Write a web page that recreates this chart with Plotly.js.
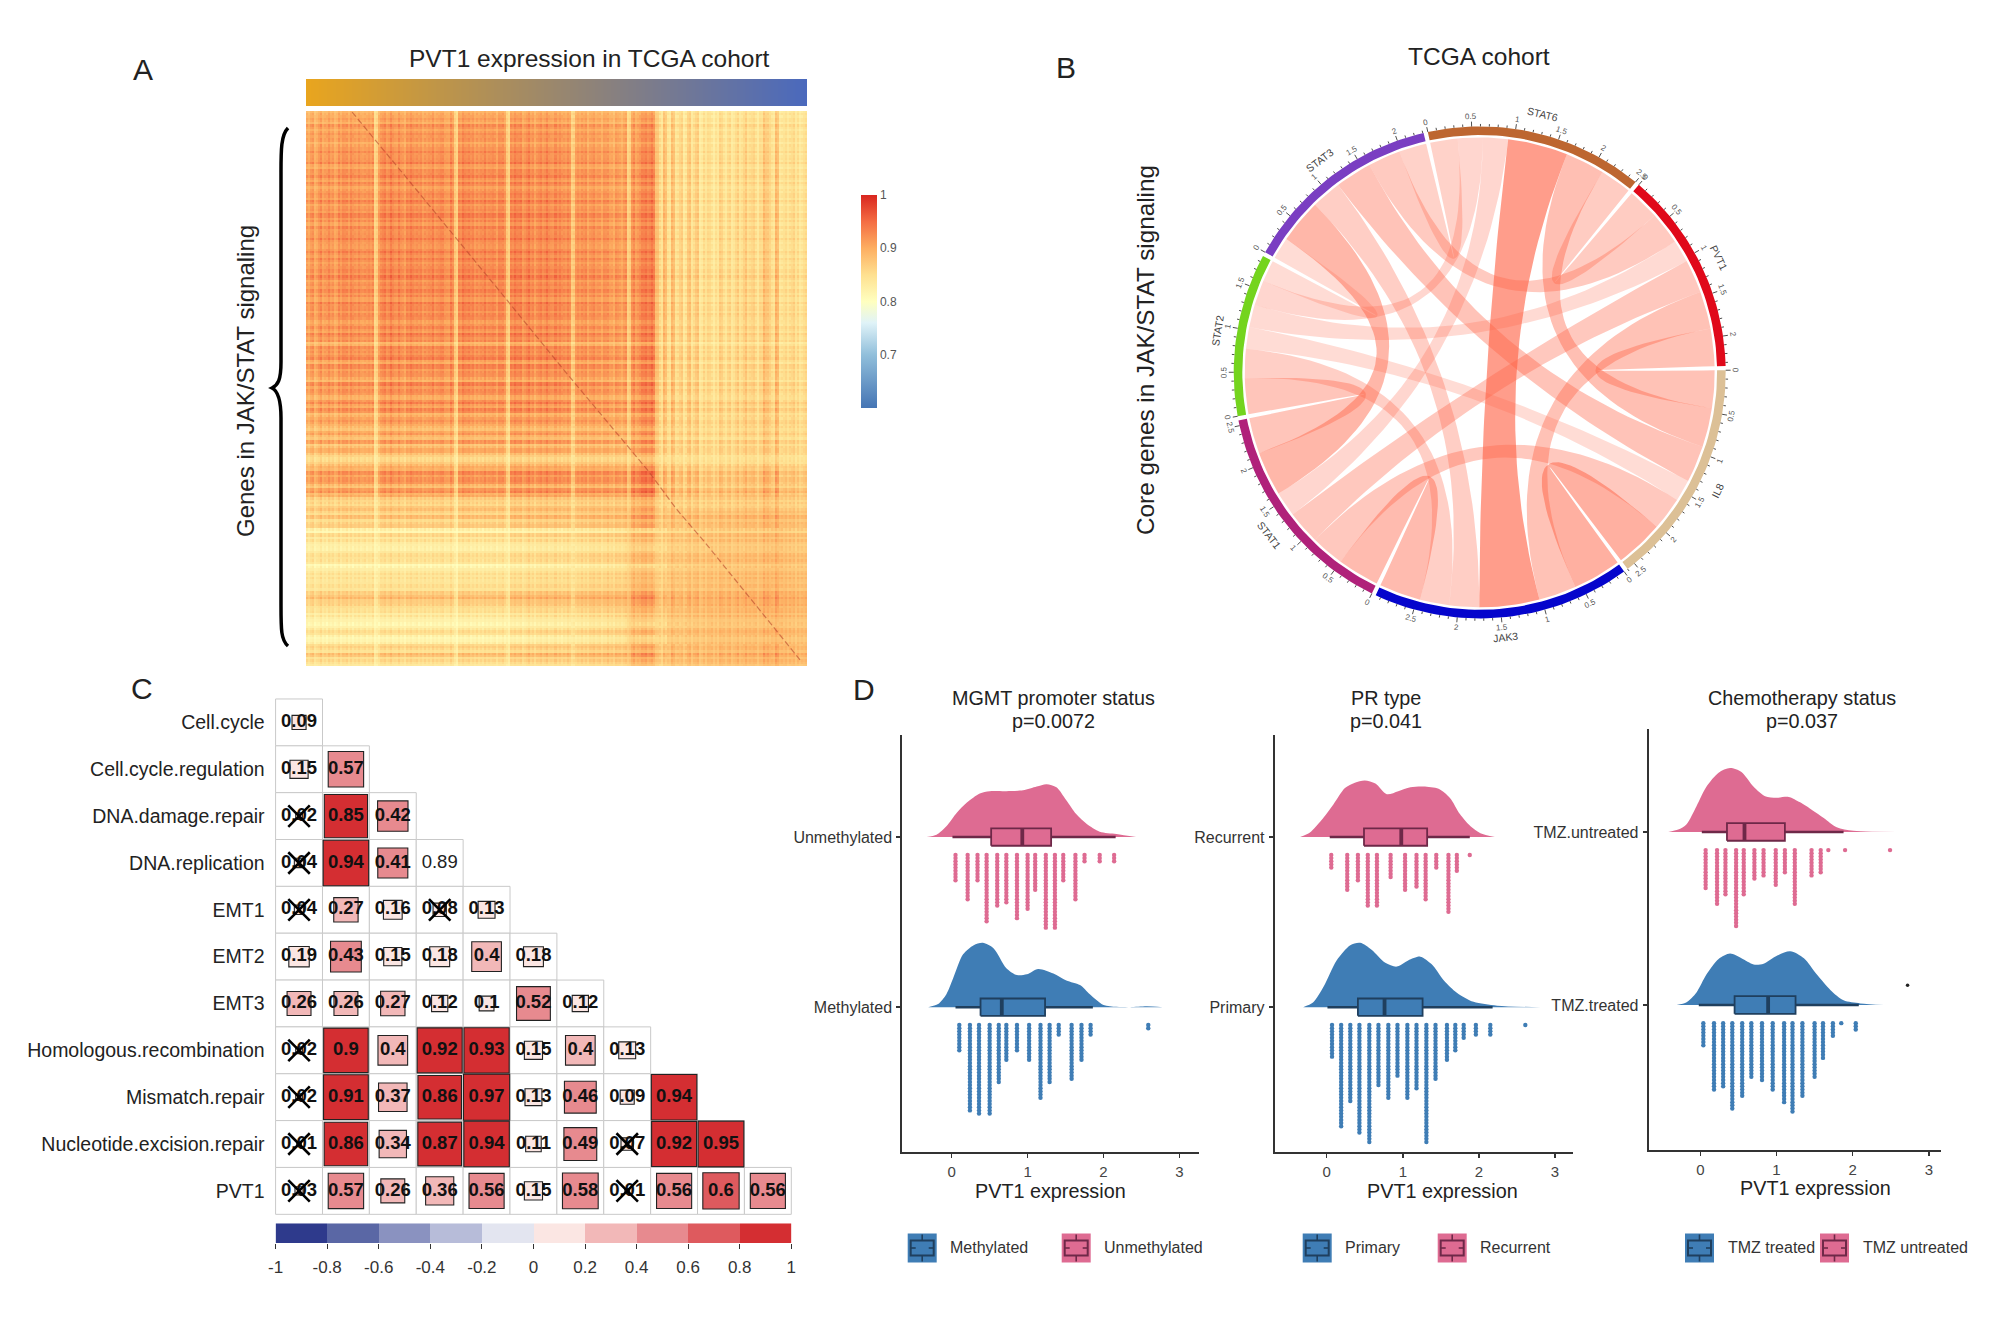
<!DOCTYPE html>
<html><head><meta charset="utf-8">
<script src="https://cdn.plot.ly/plotly-3.0.1.min.js"></script>
<style>html,body{margin:0;padding:0;background:#fff}
.heatmaplayer image{filter:blur(.6px)}</style></head>
<body><div id="chart" style="width:2008px;height:1330px"></div>
<script>
const W = 2008, H = 1330;
// ---- Panel A: gene loadings
const heatColA = [.8,.86,.78,.9,.84,.92,.86,.8,.9,.95,.88,.96,.86,.9,.84,.92,.88,.5,.9,.98,
 .92,1,.9,.95,.88,.94,.98,.9,.96,.86,.92,.98,.88,.96,.92,.86,.95,.55,.92,1,
 .94,.98,.88,.92,.98,.9,.96,.88,.98,.92,.55,.95,1,.96,.9,.98,.94,.88,.96,.92,
 .98,.9,.94,.96,.88,.92,.5,.9,.86,.92,.84,.9,.86,.82,.9,.84,.8,.86,.78,.84,
 .5,.88,.82,.95,.98,.96,1,.6,.35,.65,.3,.62,.3,.5,.25,.55,.35,.5,.25,.35,
 .4,.25,.33,.45,.28,.38,.3,.42,.33,.5,.35,.45,.3,.4,.56,.5,.3,.62,.25,.38,.3,.42,.35,.25,.38];
const heatColB = [.1,.1,.1,.1,.1,.1,.1,.1,.1,.1,.15,.2,.2,.25,.3,.35,.6,.55,.7,.75,.8,.8,.8,.85,.8];
const heatRowA = [.7,.82,.74,.86,.8,.9,.84,.76,.88,.92,.86,.94,.82,.9,.96,.84,.92,.8,.94,.88,
 .96,.86,.92,.98,.9,.84,.94,.88,.96,.92,.84,.98,.9,.94,.86,.96,.92,.98,.88,.94,
 .96,.9,.84,.98,.92,.88,.96,.78,.92,.84,.96,.88,.7,.92,.86,.98,.78,.94,.84,.9,
 .72,.96,.86,.92,.7,.94,.78,.9,.66,.86,.76,.58,.8,.64,.82,.56,.76,.52,.38,.55,
 .72,.9,.82,.86,.58,.84,.7,.45,.38,.55,.42,.55,.38,.5,.1,.36,.26,.2,.12,.28,
 .32,.25,.04,.22,.28,.25,.3,.32,.42,.56,.46,.38,.28,.2,.16,.03,.18,.32,.06,.1,.42,.32,.52,.36,.28];
const heatRowB = [.05,.05,.05,.05,.05,.05,.05,.08,.08,.1,.1,.12,.15,.2,.25,.3,.4,.5,.7,.75,.8,.8,.85,.85,.8];
const heatWeaveCol = [.6,-.4,.2,.8,-.7,.1,-.2,.9,-.5,.3,-.9,.5,-.1];
const heatWeaveRow = [-.3,.7,-.8,.2,.5,-.6,.9,-.1,-.7,.4,.1,-.9,.6,.3,-.5,.8,-.2];
const diagColFrac = [.09,.136,.202,.394,.513,.679,.738,.795,.984];
const diagRowFrac = [0,.05,.122,.333,.465,.644,.716,.776,.987];
const barEnds = [0, 1];
const heatTicks = [0.7, 0.8, 0.9, 1];
// ---- Panel B: correlations among the core genes
const chordGenes = ['IL8','JAK3','STAT1','STAT2','STAT3','STAT6','PVT1'];
const chordColors = ['#DCC096','#0505CC','#B0217A','#74D41E','#7A3EC2','#BD6630','#E0091A'];
const chordMatrix = [
 [0,.58,.4,.26,.44,.47,.45],
 [.58,0,.5,.35,.36,.72,.45],
 [.4,.5,0,.43,.53,.3,.4],
 [.26,.35,.43,0,.26,.3,.27],
 [.44,.36,.53,.26,0,.33,.39],
 [.47,.72,.3,.3,.33,0,.38],
 [.45,.45,.4,.27,.39,.38,0]];
// ---- Panel C: correlation triangle
const corrLabels = ['Cell.cycle','Cell.cycle.regulation','DNA.damage.repair','DNA.replication','EMT1','EMT2','EMT3','Homologous.recombination','Mismatch.repair','Nucleotide.excision.repair','PVT1'];
const corrValues = [[.09],[.15,.57],[.02,.85,.42],[.04,.94,.41,.89],[.04,.27,.16,.08,.13],[.19,.43,.15,.18,.4,.18],
 [.26,.26,.27,.12,.1,.52,.12],[.02,.9,.4,.92,.93,.15,.4,.13],[.02,.91,.37,.86,.97,.13,.46,.09,.94],
 [.01,.86,.34,.87,.94,.11,.49,.07,.92,.95],[.03,.57,.26,.36,.56,.15,.58,.01,.56,.6,.56]];
const corrCrossed = [[],[],[0],[0],[0,3],[],[],[0],[0],[0,7],[0,7]];
const corrNoSquare = [[3,3]];
const corrPalette = ['#2E3A8C','#5A67A5','#8A92C0','#B7BCD9','#E3E5F0','#FBE6E3','#F2B8B8','#E78A8F','#DE5A5E','#D42E32'];
const corrBarCentres = [-.9,-.7,-.5,-.3,-.1,.1,.3,.5,.7,.9];
const corrBarTicks = [-1,-.8,-.6,-.4,-.2,0,.2,.4,.6,.8,1];
const corrBarLabels = ['-1','-0.8','-0.6','-0.4','-0.2','0','0.2','0.4','0.6','0.8','1'];
// ---- Panel D: MGMT promoter status
const mgmtUnX = [-.33,-.2,-.07,.07,.2,.37,.5,.72,.94,1.12,1.25,1.38,1.51,1.64,1.78,1.95,2.17,2.43];
const mgmtUnD = [0,.03,.14,.32,.45,.57,.6,.6,.61,.66,.69,.65,.48,.3,.17,.07,.04,0];
const mgmtUnBox = [.01,.52,.93,1.31,2.16];
const mgmtUnDotX = [.05,.21,.34,.46,.6,.72,.86,1,1.1,1.24,1.36,1.47,1.63,1.75,1.95,2.14];
const mgmtUnDotN = [9,15,9,22,17,16,21,18,12,24,24,9,15,3,3,3];
const mgmtMeX = [-.31,-.18,-.07,.02,.15,.29,.41,.55,.72,.86,.99,1.14,1.34,1.51,1.69,1.82,2,2.17,2.35,2.57,2.78];
const mgmtMeD = [0,.04,.17,.38,.69,.81,.84,.77,.51,.42,.43,.5,.44,.35,.29,.17,.03,.005,0,.012,0];
const mgmtMeBox = [.05,.38,.66,1.23,1.86];
const mgmtMeDotX = [.1,.24,.36,.5,.62,.72,.86,1.02,1.17,1.29,1.41,1.58,1.71,1.83,2.59];
const mgmtMeDotN = [9,28,29,29,19,12,9,12,24,19,4,18,12,4,2];
// ---- Panel D: PR type
const prReX = [-.35,-.22,-.07,.09,.24,.37,.5,.64,.79,.94,1.1,1.27,1.47,1.62,1.75,1.89,2.02,2.21];
const prReD = [0,.06,.22,.43,.64,.71,.74,.7,.56,.6,.65,.66,.63,.51,.3,.14,.05,0];
const prReBox = [.04,.49,.98,1.32,1.88];
const prReDotX = [.06,.27,.41,.54,.66,.84,1.03,1.18,1.3,1.44,1.6,1.71,1.88];
const prReDotN = [5,12,9,17,17,8,12,11,15,5,19,6,1];
const prPrX = [-.31,-.18,-.04,.13,.31,.44,.59,.77,.92,1.07,1.23,1.38,1.54,1.71,1.93,2.24,2.81];
const prPrD = [0,.06,.27,.61,.81,.84,.75,.58,.53,.61,.66,.56,.35,.19,.07,.02,0];
const prPrBox = [.01,.41,.76,1.26,2.18];
const prPrDotX = [.07,.19,.31,.43,.56,.68,.81,.93,1.06,1.18,1.31,1.43,1.58,1.69,1.8,1.96,2.15,2.61];
const prPrDotN = [11,33,25,35,38,20,24,17,24,21,38,18,12,9,5,4,4,1];
// ---- Panel D: Chemotherapy status
const tmzUnX = [-.42,-.29,-.18,-.05,.08,.24,.39,.54,.7,.85,1,1.16,1.31,1.47,1.62,1.79,2.01,2.82];
const tmzUnD = [0,.03,.1,.33,.58,.76,.82,.77,.58,.46,.44,.45,.38,.28,.18,.06,.015,0];
const tmzUnBox = [.02,.35,.58,1.11,1.88];
const tmzUnDotX = [.07,.22,.33,.47,.57,.71,.83,.99,1.11,1.24,1.46,1.58,1.68,1.9,2.49];
const tmzUnDotN = [13,18,15,25,15,10,9,12,8,18,9,8,1,1,1];
const tmzTrX = [-.31,-.18,-.05,.08,.24,.39,.54,.7,.83,.98,1.18,1.36,1.53,1.71,1.88,2.1,2.41];
const tmzTrD = [0,.035,.16,.39,.59,.66,.6,.52,.53,.62,.69,.6,.39,.19,.06,.02,0];
const tmzTrBox = [-.02,.45,.89,1.25,2.08];
const tmzTrDotX = [.04,.18,.3,.42,.55,.67,.81,.95,1.1,1.21,1.34,1.5,1.61,1.74,1.85,2.04];
const tmzTrDotN = [8,22,21,28,24,18,19,22,26,29,24,18,12,5,1,3];
const tmzTrOutlier = [2.72];
const xTicksD = [0,1,2,3];

// ---------------------------------------------------------------- helpers
const FONT = '"Liberation Sans", Arial, sans-serif';
const fx = p => p/W, fy = p => 1-p/H;
const traces = [], annotations = [], shapes = [];
const layout = {width:W,height:H,margin:{l:0,r:0,t:0,b:0,autoexpand:false},paper_bgcolor:'#fff',plot_bgcolor:'rgba(0,0,0,0)',
  showlegend:false,font:{family:FONT,color:'#222'},annotations,shapes};
function axes(n,l,r,t,b,xo,yo){
  const xn = n===1?'xaxis':'xaxis'+n, yn = n===1?'yaxis':'yaxis'+n;
  layout[xn] = Object.assign({domain:[fx(l),fx(r)],anchor:n===1?'y':'y'+n,visible:false,fixedrange:true,showgrid:false,zeroline:false},xo);
  layout[yn] = Object.assign({domain:[fy(b),fy(t)],anchor:n===1?'x':'x'+n,visible:false,fixedrange:true,showgrid:false,zeroline:false},yo);
  return {xaxis:n===1?'x':'x'+n,yaxis:n===1?'y':'y'+n};
}
function label(x,y,text,size,o){
  annotations.push(Object.assign({xref:'paper',yref:'paper',x:fx(x),y:fy(y),text,showarrow:false,xanchor:'center',yanchor:'middle',
    font:{size,family:FONT,color:'#222'}},o||{}));
}
// ---------------------------------------------------------------- Panel A
const SUB = 2, nRows = heatRowA.length*SUB, nCols = heatColA.length*SUB;
const aAxes = axes(1,306,807,111,666,{range:[-.5,nCols-.5]},{range:[nRows-.5,-.5]});
const heatZ = [];
for(let r=0;r<nRows;r++){
  const row=[], ri=Math.floor(r/SUB), ra=heatRowA[ri], rb=heatRowB[Math.floor(ri/heatRowA.length*heatRowB.length)], wr=heatWeaveRow[r%heatWeaveRow.length];
  for(let c=0;c<nCols;c++){
    const ci=Math.floor(c/SUB), ca=heatColA[ci], cb=heatColB[Math.floor(ci/heatColA.length*heatColB.length)], wc=heatWeaveCol[c%heatWeaveCol.length];
    row.push(.797+.15*ra*ca+.11*rb*cb+.009*wr+.009*wc+.007*wr*wc);
  }
  heatZ.push(row);
}
traces.push(Object.assign({type:'heatmap',z:heatZ,zmin:.6,zmax:1,hoverinfo:'skip',
  colorscale:[[0,'#4575B4'],[.25,'#91BFDB'],[.4,'#E0F3F8'],[.5,'#FFFFBF'],[.625,'#FEE090'],[.75,'#FDAE61'],[.875,'#F46D43'],[1,'#D9261F']],
  colorbar:{lenmode:'pixels',len:213,thicknessmode:'pixels',thickness:16,x:fx(861),xanchor:'left',y:fy(195),yanchor:'top',xpad:0,ypad:0,
    outlinewidth:0,tickvals:heatTicks,ticks:'',ticklabelposition:'outside',tickfont:{size:12,color:'#555',family:FONT}}},aAxes));
traces.push(Object.assign({type:'scatter',mode:'lines',x:diagColFrac.map(f=>f*nCols),y:diagRowFrac.map(f=>f*nRows),
  line:{color:'#B8452A',width:1.2,dash:'6px 3px'},opacity:.6,hoverinfo:'skip'},aAxes));
const bAxes = axes(2,306,807,79,106,{range:[0,1]},{range:[0,1]});
traces.push(Object.assign({type:'heatmap',z:[barEnds,barEnds],x:barEnds,y:barEnds,zsmooth:'best',showscale:false,hoverinfo:'skip',
  colorscale:[[0,'#E9A51E'],[1,'#4A69BD']]},bAxes));
label(589,58,'PVT1 expression in TCGA cohort',24.5);
label(143,69,'A',30);
label(245,381,'Genes in JAK/STAT signaling',24,{textangle:-90});
const bp = (x,y)=>fx(x).toFixed(5)+','+fy(y).toFixed(5);
shapes.push({type:'path',xref:'paper',yref:'paper',line:{color:'#000',width:3.5},
  path:`M${bp(288,128)} C${bp(281,135)} ${bp(281,150)} ${bp(281,172)} L${bp(281,362)} C${bp(281,380)} ${bp(278,385)} ${bp(272,388)} C${bp(278,391)} ${bp(281,400)} ${bp(281,418)} L${bp(281,605)} C${bp(281,630)} ${bp(281,640)} ${bp(288,646)}`});
// ---------------------------------------------------------------- Panel B
const cAxes = axes(3,1184.5,1774.9,77.2,667.6,{range:[-1.2,1.2]},{range:[-1.2,1.2]});
const GAP = 1, START = .5, LINK_R = .955, IN_R = .965;
const n = chordGenes.length;
const totals = chordMatrix.map(r=>r.reduce((a,b)=>a+b,0));
const unit = (360-n*GAP)/totals.reduce((a,b)=>a+b,0);
const rad = d=>d*Math.PI/180;
const secStart = []; let cur = START;
totals.forEach(t=>{secStart.push(cur); cur -= t*unit+GAP;});
const linkPos = chordMatrix.map(()=>({}));
for(let i=0;i<n;i++){
  let a = secStart[i];
  for(let s=1;s<n;s++){ const j=(i-s+n*2)%n; const w=chordMatrix[i][j]*unit; linkPos[i][j]=[a,a-w]; a-=w; }
}
function arcPts(a,b,r){const k=Math.max(2,Math.ceil(Math.abs(a-b)/1.5));const o=[];for(let t=0;t<=k;t++){const d=a+(b-a)*t/k;o.push([r*Math.cos(rad(d)),r*Math.sin(rad(d))]);}return o;}
function bez(p,q){const o=[];for(let t=1;t<40;t++){const u=t/40;o.push([(1-u)*(1-u)*p[0]+u*u*q[0],(1-u)*(1-u)*p[1]+u*u*q[1]]);}return o;}
for(let i=0;i<n;i++) for(let j=i+1;j<n;j++){
  const A=arcPts(linkPos[i][j][0],linkPos[i][j][1],LINK_R), B=arcPts(linkPos[j][i][0],linkPos[j][i][1],LINK_R);
  const pts=[...A,...bez(A[A.length-1],B[0]),...B,...bez(B[B.length-1],A[0])];
  traces.push(Object.assign({type:'scatter',mode:'lines',x:pts.map(p=>p[0]),y:pts.map(p=>p[1]),fill:'toself',line:{width:0},
    fillcolor:`rgba(255,95,65,${(chordMatrix[i][j]*.85).toFixed(3)})`,hoverinfo:'skip'},cAxes));
}
const tickX=[],tickY=[];
const tangentAngle = d=>{let m=((d%360)+360)%360; return m<=180?90-m:-(m-360+90);};
chordGenes.forEach((g,i)=>{
  const a0=secStart[i], a1=a0-totals[i]*unit;
  const outer=arcPts(a0,a1,1), inner=arcPts(a1,a0,IN_R); const poly=[...outer,...inner];
  traces.push(Object.assign({type:'scatter',mode:'lines',x:poly.map(p=>p[0]),y:poly.map(p=>p[1]),fill:'toself',fillcolor:chordColors[i],line:{width:0},hoverinfo:'skip'},cAxes));
  for(let k=0;k*0.1<=totals[i]+1e-6;k++){
    const d=a0-k*0.1*unit, major=k%5===0, r1=major?1.02:1.01;
    tickX.push(Math.cos(rad(d)),r1*Math.cos(rad(d)),null); tickY.push(Math.sin(rad(d)),r1*Math.sin(rad(d)),null);
    if(major) annotations.push({xref:cAxes.xaxis,yref:cAxes.yaxis,x:1.04*Math.cos(rad(d)),y:1.04*Math.sin(rad(d)),text:String(k/10),showarrow:false,
      textangle:tangentAngle(d),font:{size:8,color:'#555',family:FONT}});
  }
  const mid=(a0+a1)/2;
  annotations.push({xref:cAxes.xaxis,yref:cAxes.yaxis,x:1.08*Math.cos(rad(mid)),y:1.08*Math.sin(rad(mid)),
    text:g,showarrow:false,textangle:tangentAngle(mid),font:{size:10.5,color:'#444',family:FONT}});
});
traces.push(Object.assign({type:'scatter',mode:'lines',x:tickX,y:tickY,line:{color:'#222',width:.8},hoverinfo:'skip'},cAxes));
label(1479,56,'TCGA cohort',24.5);
label(1066,68,'B',30);
label(1146,350,'Core genes in JAK/STAT signaling',24.3,{textangle:-90});
// ---------------------------------------------------------------- Panel C
const dAxes = axes(4,275.6,791.3,699,1214.3,{range:[-.5,10.5]},{range:[10.5,-.5],visible:true,showline:false,ticks:'',
  tickvals:corrLabels.map((_,i)=>i),ticktext:corrLabels,tickfont:{size:19.5,color:'#222',family:FONT},ticklabelstandoff:10});
const CELL = 46.9;
const gx=[],gy=[],sx=[],sy=[],ss=[],sc=[],tx=[],ty=[],tt=[],rx=[],ry=[],rt=[],cx=[],cy=[];
const palIdx = v=>Math.min(9,Math.floor((v+1)/.2));
corrValues.forEach((row,r)=>row.forEach((v,c)=>{
  gx.push(c);gy.push(r);
  const none = corrNoSquare.some(p=>p[0]===r&&p[1]===c);
  if(none){rx.push(c);ry.push(r);rt.push(String(v));}
  else{sx.push(c);sy.push(r);ss.push(Math.sqrt(v)*CELL);sc.push(corrPalette[palIdx(v)]);tx.push(c);ty.push(r);tt.push(String(v));}
  if(corrCrossed[r].includes(c)){cx.push(c);cy.push(r);}
}));
traces.push(Object.assign({type:'scatter',mode:'markers',x:gx,y:gy,cliponaxis:false,hoverinfo:'skip',marker:{symbol:'square',size:CELL,color:'#fff',opacity:1,line:{color:'#C9C9C9',width:1}}},dAxes));
traces.push(Object.assign({type:'scatter',mode:'markers',x:sx,y:sy,cliponaxis:false,hoverinfo:'skip',marker:{symbol:'square',size:ss,color:sc,opacity:1,line:{color:'#222',width:1.1}}},dAxes));
traces.push(Object.assign({type:'scatter',mode:'text',x:tx,y:ty,text:tt,cliponaxis:false,hoverinfo:'skip',textposition:'middle center',textfont:{size:18.5,family:FONT,color:'#111',weight:700}},dAxes));
traces.push(Object.assign({type:'scatter',mode:'text',x:rx,y:ry,text:rt,cliponaxis:false,hoverinfo:'skip',textposition:'middle center',textfont:{size:18.5,family:FONT,color:'#222'}},dAxes));
traces.push(Object.assign({type:'scatter',mode:'markers',x:cx,y:cy,cliponaxis:false,hoverinfo:'skip',marker:{symbol:'x-thin-open',size:21.5,color:'#000',line:{color:'#000',width:2.6}}},dAxes));
const eAxes = axes(5,275.6,791.3,1223.3,1243,{range:[-1,1],visible:true,ticks:'outside',ticklen:5,tickcolor:'#333',tickwidth:1,side:'bottom',
  tickvals:corrBarTicks,ticktext:corrBarLabels,tickfont:{size:17,color:'#333',family:FONT},ticklabelstandoff:4},{range:[-.5,.5]});
traces.push(Object.assign({type:'heatmap',x:corrBarCentres,y:[0],z:[corrBarCentres.map((_,i)=>i)],zmin:0,zmax:9,showscale:false,hoverinfo:'skip',
  colorscale:corrPalette.map((c,i)=>[i/9,c])},eAxes));
label(142,688,'C',30);
// ---------------------------------------------------------------- Panel D
const BLUE='#3F7DB5', PINK='#DE6B92', DBLUE='#1F3F5E', DPINK='#6E2848';
const K=.45, DOT0=.105, HB=.051;
function rain(ax,pos,X,D,Box,dotX,dotN,fill,dark,spacing){
  traces.push(Object.assign({type:'scatter',mode:'lines',x:X,y:D.map(d=>pos+d*K),fill:'toself',fillcolor:fill,line:{width:0,shape:'spline',smoothing:.8},hoverinfo:'skip'},ax));
  // whiskers, box and median go through the same scatter layer so they sit above the density
  traces.push(Object.assign({type:'scatter',mode:'lines',x:[Box[0],Box[1],null,Box[3],Box[4]],y:[pos,pos,null,pos,pos],line:{color:dark,width:2.4},hoverinfo:'skip'},ax));
  traces.push(Object.assign({type:'scatter',mode:'lines',x:[Box[1],Box[3],Box[3],Box[1],Box[1]],y:[pos-HB,pos-HB,pos+HB,pos+HB,pos-HB],fill:'toself',fillcolor:fill,line:{color:dark,width:1.8},hoverinfo:'skip'},ax));
  traces.push(Object.assign({type:'scatter',mode:'lines',x:[Box[2],Box[2]],y:[pos-HB,pos+HB],line:{color:dark,width:3.8},hoverinfo:'skip'},ax));
  const step=3.16/spacing, px=[],py=[];
  dotX.forEach((x,i)=>{for(let k=0;k<dotN[i];k++){px.push(x);py.push(pos-DOT0-k*step);}});
  traces.push(Object.assign({type:'scatter',mode:'markers',x:px,y:py,marker:{symbol:'circle',size:4.4,color:fill},hoverinfo:'skip'},ax));
}
function dPanel(n,l,r,t,b,zero,unitPx,bot,top,cats){
  return axes(n,l,r,t,b,
   {visible:true,range:[(l-zero)/unitPx,(r-zero)/unitPx],showline:true,linecolor:'#333',linewidth:2,ticks:'outside',ticklen:4,tickwidth:1.5,tickcolor:'#333',
    tickvals:xTicksD,ticktext:xTicksD.map(String),tickfont:{size:15,color:'#444',family:FONT},ticklabelstandoff:1},
   {visible:true,range:[bot,top],showline:true,linecolor:'#333',linewidth:2,ticks:'outside',ticklen:4,tickwidth:1.5,tickcolor:'#333',
    tickvals:[1,2],ticktext:cats,tickfont:{size:16,color:'#333',family:FONT},ticklabelstandoff:1});
}
const ax6=dPanel(6,902.3,1199,735,1151.6,951.7,75.9,.151,2.6,['Methylated','Unmethylated']);
rain(ax6,2,mgmtUnX,mgmtUnD,mgmtUnBox,mgmtUnDotX,mgmtUnDotN,PINK,DPINK,170);
rain(ax6,1,mgmtMeX,mgmtMeD,mgmtMeBox,mgmtMeDotX,mgmtMeDotN,BLUE,DBLUE,170);
const ax7=dPanel(7,1274.7,1572.7,735,1151.6,1326.7,76.1,.151,2.6,['Primary','Recurrent']);
rain(ax7,2,prReX,prReD,prReBox,prReDotX,prReDotN,PINK,DPINK,170);
rain(ax7,1,prPrX,prPrD,prPrBox,prPrDotX,prPrDotN,BLUE,DBLUE,170);
const ax8=dPanel(8,1648.7,1941,729,1149.6,1700.3,76.2,.164,2.595,['TMZ.treated','TMZ.untreated']);
rain(ax8,2,tmzUnX,tmzUnD,tmzUnBox,tmzUnDotX,tmzUnDotN,PINK,DPINK,173);
rain(ax8,1,tmzTrX,tmzTrD,tmzTrBox,tmzTrDotX,tmzTrDotN,BLUE,DBLUE,173);
traces.push(Object.assign({type:'scatter',mode:'markers',x:tmzTrOutlier,y:[1.114],marker:{size:3.5,color:'#222'},hoverinfo:'skip'},ax8));
label(864,689,'D',30);
[[1053,'MGMT promoter status','p=0.0072',1050,1191],[1385.7,'PR type','p=0.041',1442,1191],[1802.3,'Chemotherapy status','p=0.037',1815.7,1188]].forEach(p=>{
  label(p[0],698.5,p[1],19.8); label(p[0],721.4,p[2],19.8); label(p[3],p[4],'PVT1 expression',19.8);
});
function legendKey(x,y,fill,dark,name){
  const S=(o)=>shapes.push(Object.assign({xref:'paper',yref:'paper'},o));
  const rect=(x0,y0,x1,y1,f,lc,lw)=>S({type:'rect',x0:fx(x0),x1:fx(x1),y0:fy(y1),y1:fy(y0),fillcolor:f,line:{color:lc,width:lw}});
  const seg=(x0,y0,x1,y1)=>S({type:'line',x0:fx(x0),x1:fx(x1),y0:fy(y0),y1:fy(y1),line:{color:dark,width:1.6}});
  rect(x,y,x+29,y+29,fill,'rgba(0,0,0,0)',0);
  rect(x+3,y+7,x+26,y+22,fill,dark,2);
  seg(x+14.5,y+1,x+14.5,y+7); seg(x+14.5,y+22,x+14.5,y+28);
  seg(x+3,y+14.5,x+8,y+14.5); seg(x+21,y+14.5,x+26,y+14.5);
  label(x+40.5,y+14,name,16,{xanchor:'left',font:{size:16,color:'#333',family:FONT}});
}
legendKey(907.7,1233.5,BLUE,DBLUE,'Methylated');
legendKey(1061.7,1233.5,PINK,DPINK,'Unmethylated');
legendKey(1302.7,1233.5,BLUE,DBLUE,'Primary');
legendKey(1437.7,1233.5,PINK,DPINK,'Recurrent');
legendKey(1685,1233.5,BLUE,DBLUE,'TMZ treated');
legendKey(1820,1233.5,PINK,DPINK,'TMZ untreated');

Plotly.newPlot('chart',traces,layout,{staticPlot:true,displayModeBar:false});
</script></body></html>
